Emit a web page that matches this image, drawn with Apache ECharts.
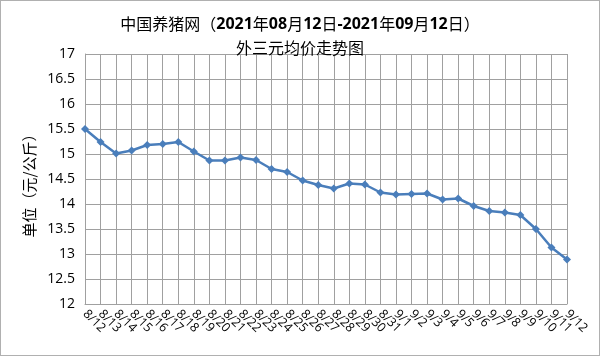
<!DOCTYPE html>
<html><head><meta charset="utf-8">
<script src="https://cdn.jsdelivr.net/npm/echarts@6/dist/echarts.min.js"></script>
<style>html,body{margin:0;padding:0;background:#fff}#c{width:598px;height:354px;border:1px solid #b0b0b0}</style>
</head><body><div id="c"></div>
<script>
const titleLine1 = '中国养猪网（2021年08月12日-2021年09月12日）';
const titleLine2 = '外三元均价走势图';
const yAxisName = '单位（元/公斤）';
const categories = ['8/12','8/13','8/14','8/15','8/16','8/17','8/18','8/19','8/20','8/21','8/22','8/23','8/24','8/25','8/26','8/27','8/28','8/29','8/30','8/31','9/1','9/2','9/3','9/4','9/5','9/6','9/7','9/8','9/9','9/10','9/11','9/12'];
const prices = [15.50,15.24,15.01,15.07,15.18,15.20,15.24,15.05,14.87,14.87,14.93,14.88,14.70,14.64,14.47,14.38,14.31,14.41,14.39,14.23,14.19,14.20,14.21,14.09,14.11,13.96,13.86,13.83,13.78,13.50,13.13,12.89];
const yMin = 12, yMax = 17, yStep = 0.5;

// split title line 1 into bold digit runs and normal CJK runs
function richTitle(s){
  return s.replace(/([0-9\-]+)/g, '{b|$1}').split(/(\{b\|[^}]*\})/).map(p => p.startsWith('{b|') ? p : (p ? '{n|' + p + '}' : '')).join('');
}
const baseFont = {fontSize:16, color:'#000', fontFamily:'"Noto Sans CJK SC", sans-serif', lineHeight:24};

const chart = echarts.init(document.getElementById('c'), null, {renderer:'canvas'});
chart.setOption({
  animation:false,
  backgroundColor:'#fff',
  title:{
    text: richTitle(titleLine1) + '\n{n|' + titleLine2 + '}',
    left:'center', top:6,
    textStyle:{
      fontSize:16, lineHeight:24,
      rich:{
        n:Object.assign({fontWeight:'normal'}, baseFont),
        b:Object.assign({}, baseFont, {fontWeight:'bold', fontFamily:'"Open Sans", sans-serif', fontSize:16})
      }
    }
  },
  grid:{left:84, right:32, top:53, bottom:51},
  xAxis:{
    type:'category', data:categories, boundaryGap:false,
    axisLine:{lineStyle:{color:'#a0a0a0'}},
    axisTick:{show:false},
    splitLine:{show:true, lineStyle:{color:'#a0a0a0', width:1}},
    axisLabel:{interval:0, rotate:-45, fontSize:12.5, color:'#000', margin:8, fontFamily:'"Open Sans", sans-serif'}
  },
  yAxis:{
    type:'value', min:yMin, max:yMax, interval:yStep,
    name:yAxisName, nameLocation:'middle', nameGap:46, nameRotate:90,
    nameTextStyle:{fontSize:15, color:'#000', fontFamily:'"Noto Sans CJK SC", serif', padding:[0,0,0,-6]},
    axisLine:{show:true, lineStyle:{color:'#a0a0a0'}},
    axisTick:{show:false},
    splitLine:{show:true, lineStyle:{color:'#a0a0a0', width:1}},
    axisLabel:{fontSize:14, color:'#000', margin:10, fontFamily:'"Open Sans", sans-serif'}
  },
  series:[{
    type:'line', data:prices,
    symbol:'diamond', symbolSize:8,
    lineStyle:{color:'#4a7ebb', width:2.5},
    itemStyle:{color:'#4a7ebb'}
  }]
});
</script></body></html>
